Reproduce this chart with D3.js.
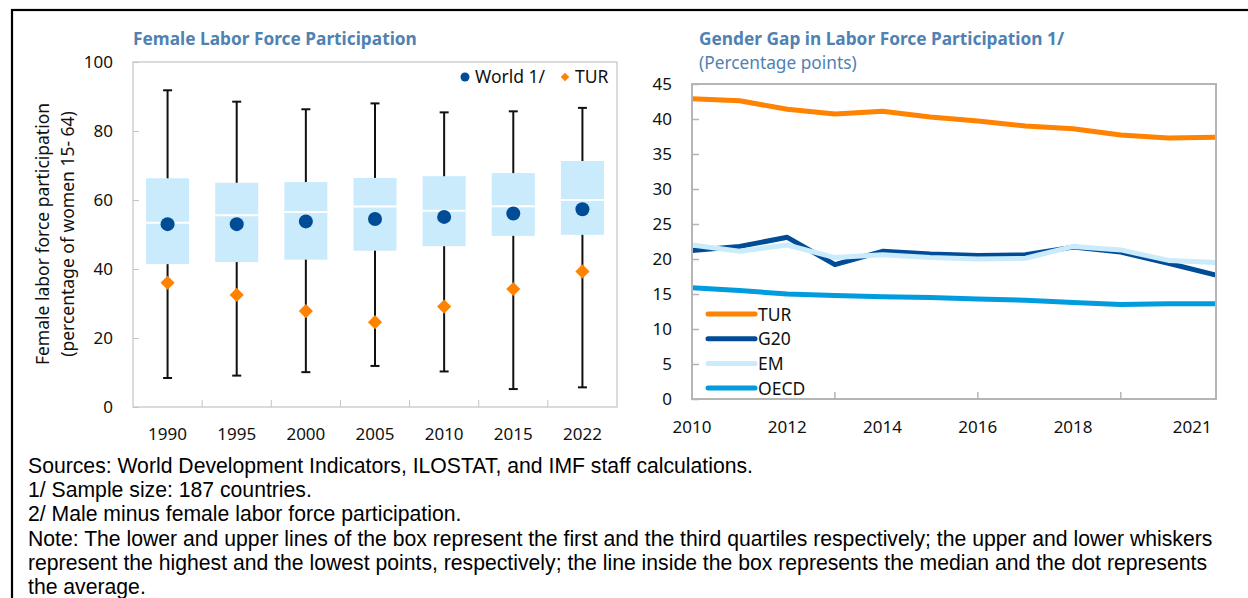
<!DOCTYPE html>
<html>
<head>
<meta charset="utf-8">
<script src="https://cdn.jsdelivr.net/npm/d3@7"></script>
<style>
  body { margin: 0; background: #fff; }
  svg { display: block; }
</style>
</head>
<body>
<div id="chart"></div>
<script>
// Female labor force participation (box plots) and gender gap (lines)

const boxYears = ["1990", "1995", "2000", "2005", "2010", "2015", "2022"];
const boxMax = [91.8, 88.5, 86.3, 88.0, 85.4, 85.7, 86.7];
const boxQ3 = [66.3, 65.0, 65.2, 66.4, 66.9, 67.8, 71.3];
const boxMedian = [53.4, 55.6, 56.5, 58.1, 56.9, 58.2, 60.0];
const boxMean = [53.0, 53.0, 53.8, 54.5, 55.1, 56.1, 57.3];
const boxQ1 = [41.4, 42.0, 42.7, 45.3, 46.6, 49.6, 49.9];
const boxMin = [8.4, 9.1, 10.1, 11.9, 10.3, 5.2, 5.7];
const turLfp = [36.0, 32.5, 27.8, 24.6, 29.1, 34.2, 39.3];

const gapYears = [2010, 2011, 2012, 2013, 2014, 2015, 2016, 2017, 2018, 2019, 2020, 2021];
const gapTUR = [42.9, 42.6, 41.4, 40.7, 41.1, 40.3, 39.7, 39.0, 38.6, 37.7, 37.3, 37.4];
const gapG20 = [21.2, 21.8, 23.1, 19.2, 21.1, 20.7, 20.5, 20.6, 21.7, 21.0, 19.4, 17.7];
const gapEM = [22.0, 21.1, 22.0, 20.2, 20.6, 20.2, 20.0, 20.1, 21.8, 21.3, 19.8, 19.5];
const gapOECD = [15.9, 15.5, 15.0, 14.8, 14.6, 14.5, 14.3, 14.1, 13.8, 13.5, 13.6, 13.6];

const leftTicks = [0, 20, 40, 60, 80, 100];
const rightTicks = [0, 5, 10, 15, 20, 25, 30, 35, 40, 45];
const rightLabelYears = [2010, 2012, 2014, 2016, 2018, 2020.5];
const rightLabelText = ["2010", "2012", "2014", "2016", "2018", "2021"];
const rightTickYears = [2013, 2016, 2019];

const footnotes = [
  "Sources: World Development Indicators, ILOSTAT, and IMF staff calculations.",
  "1/ Sample size: 187 countries.",
  "2/ Male minus female labor force participation.",
  "Note: The lower and upper lines of the box represent the first and the third quartiles respectively; the upper and lower whiskers",
  "represent the highest and the lowest points, respectively; the line inside the box represents the median and the dot represents",
  "the average."
];

const width = 1248, height = 598;
const font = "'Noto Sans', sans-serif";
const titleColor = "#4f81b3";
const orange = "#ff8200", navy = "#004c97", pale = "#c9ebfb", sky = "#009cde";
const tickFont = 17, legendFont = 17.5, titleFont = 17.3;

const svg = d3.select("#chart")
  .append("svg")
  .attr("width", width)
  .attr("height", height)
  .style("font-family", font);

svg.append("rect")
  .attr("width", width).attr("height", height)
  .attr("fill", "#fff");

// outer frame
svg.append("rect")
  .attr("x", 12).attr("y", 10)
  .attr("width", 1250).attr("height", 620)
  .attr("fill", "none")
  .attr("stroke", "#000")
  .attr("stroke-width", 2.2);

// ---------- left chart ----------
const x1 = d3.scaleBand().domain(boxYears).range([133, 617]);
const y1 = d3.scaleLinear().domain([0, 100]).range([407, 62]);

svg.append("text")
  .attr("x", 133).attr("y", 45)
  .attr("font-size", titleFont)
  .attr("font-weight", "bold")
  .attr("fill", titleColor)
  .text("Female Labor Force Participation");

svg.append("rect")
  .attr("x", 133).attr("y", 62)
  .attr("width", 484).attr("height", 345)
  .attr("fill", "none")
  .attr("stroke", "#c4c4c4")
  .attr("stroke-width", 1.2);

svg.append("g")
  .attr("transform", "translate(133,0)")
  .call(d3.axisLeft(y1).tickValues(leftTicks).tickSize(-6).tickPadding(20))
  .call(g => g.select(".domain").remove())
  .call(g => g.selectAll("line").attr("stroke", "#c4c4c4"))
  .call(g => g.selectAll("text").attr("font-size", tickFont).attr("fill", "#111").attr("font-family", font));

// inner category ticks on the x axis
svg.append("g")
  .selectAll("line")
  .data(boxYears.slice(1))
  .join("line")
  .attr("x1", d => x1(d)).attr("x2", d => x1(d))
  .attr("y1", 407).attr("y2", 400)
  .attr("stroke", "#c4c4c4");

svg.append("g")
  .attr("transform", "translate(0,407)")
  .call(d3.axisBottom(x1).tickSize(0).tickPadding(21))
  .call(g => g.select(".domain").remove())
  .call(g => g.selectAll("text").attr("font-size", tickFont).attr("fill", "#111").attr("font-family", font));

svg.append("text")
  .attr("transform", "translate(49,234) rotate(-90)")
  .attr("text-anchor", "middle")
  .attr("font-size", legendFont)
  .attr("fill", "#111")
  .text("Female labor force participation");

svg.append("text")
  .attr("transform", "translate(74,234) rotate(-90)")
  .attr("text-anchor", "middle")
  .attr("font-size", legendFont)
  .attr("fill", "#111")
  .text("(percentage of women 15- 64)");

const boxW = 43, capW = 9;
const cx = d => x1(d) + x1.bandwidth() / 2;

const boxes = svg.append("g")
  .selectAll("g")
  .data(boxYears.map((year, i) => ({
    year, max: boxMax[i], q3: boxQ3[i], med: boxMedian[i],
    mean: boxMean[i], q1: boxQ1[i], min: boxMin[i], tur: turLfp[i]
  })))
  .join("g");

boxes.append("line")
  .attr("x1", d => cx(d.year)).attr("x2", d => cx(d.year))
  .attr("y1", d => y1(d.max)).attr("y2", d => y1(d.min))
  .attr("stroke", "#111").attr("stroke-width", 2);

boxes.selectAll(".cap")
  .data(d => [d.max, d.min].map(v => ({ year: d.year, v })))
  .join("line")
  .attr("class", "cap")
  .attr("x1", d => cx(d.year) - capW / 2).attr("x2", d => cx(d.year) + capW / 2)
  .attr("y1", d => y1(d.v)).attr("y2", d => y1(d.v))
  .attr("stroke", "#111").attr("stroke-width", 2);

boxes.append("rect")
  .attr("x", d => cx(d.year) - boxW / 2)
  .attr("y", d => y1(d.q3))
  .attr("width", boxW)
  .attr("height", d => y1(d.q1) - y1(d.q3))
  .attr("fill", pale);

boxes.append("line")
  .attr("x1", d => cx(d.year) - boxW / 2).attr("x2", d => cx(d.year) + boxW / 2)
  .attr("y1", d => y1(d.med)).attr("y2", d => y1(d.med))
  .attr("stroke", "#fff").attr("stroke-width", 2);

boxes.append("circle")
  .attr("cx", d => cx(d.year))
  .attr("cy", d => y1(d.mean))
  .attr("r", 7)
  .attr("fill", navy);

const diamond = d3.symbol().type(d3.symbolSquare);

boxes.append("path")
  .attr("d", diamond.size(100)())
  .attr("transform", d => `translate(${cx(d.year)},${y1(d.tur)}) rotate(45)`)
  .attr("fill", orange);

// legend
svg.append("circle").attr("cx", 465).attr("cy", 77).attr("r", 4.5).attr("fill", navy);
svg.append("text").attr("x", 475).attr("y", 83).attr("font-size", legendFont).attr("fill", "#111").text("World 1/");
svg.append("path")
  .attr("d", diamond.size(36)())
  .attr("transform", "translate(565,77) rotate(45)")
  .attr("fill", orange);
svg.append("text").attr("x", 575).attr("y", 83).attr("font-size", legendFont).attr("fill", "#111").text("TUR");

// ---------- right chart ----------
const x2 = d3.scaleLinear().domain([2010, 2021]).range([692, 1216]);
const y2 = d3.scaleLinear().domain([0, 45]).range([399, 84]);

svg.append("text")
  .attr("x", 699).attr("y", 45)
  .attr("font-size", titleFont)
  .attr("font-weight", "bold")
  .attr("fill", titleColor)
  .text("Gender Gap in Labor Force Participation 1/");

svg.append("text")
  .attr("x", 699).attr("y", 69)
  .attr("font-size", titleFont)
  .attr("fill", titleColor)
  .text("(Percentage points)");

svg.append("g")
  .attr("transform", "translate(692,0)")
  .call(d3.axisLeft(y2).tickValues(rightTicks).tickSize(-7).tickPadding(20))
  .call(g => g.select(".domain").remove())
  .call(g => g.selectAll("line").attr("stroke", "#b5b5b5").attr("stroke-width", 1.5))
  .call(g => g.selectAll("text").attr("font-size", tickFont).attr("fill", "#111").attr("font-family", font));

svg.append("g")
  .selectAll("line")
  .data(rightTickYears)
  .join("line")
  .attr("x1", d => x2(d)).attr("x2", d => x2(d))
  .attr("y1", 399).attr("y2", 392)
  .attr("stroke", "#b5b5b5").attr("stroke-width", 1.5);

svg.append("g")
  .selectAll("text")
  .data(rightLabelYears)
  .join("text")
  .attr("x", d => x2(d))
  .attr("y", 433)
  .attr("text-anchor", "middle")
  .attr("font-size", tickFont)
  .attr("fill", "#111")
  .text((d, i) => rightLabelText[i]);

const series = [
  { name: "TUR", values: gapTUR, color: orange },
  { name: "G20", values: gapG20, color: navy },
  { name: "EM", values: gapEM, color: pale },
  { name: "OECD", values: gapOECD, color: sky }
];

const line = d3.line()
  .x((d, i) => x2(gapYears[i]))
  .y(d => y2(d));

svg.append("g")
  .selectAll("path")
  .data(series)
  .join("path")
  .attr("d", d => line(d.values))
  .attr("fill", "none")
  .attr("stroke", d => d.color)
  .attr("stroke-width", 5)
  .attr("stroke-linejoin", "round");

svg.append("rect")
  .attr("x", 692).attr("y", 84)
  .attr("width", 524).attr("height", 315)
  .attr("fill", "none")
  .attr("stroke", "#b5b5b5")
  .attr("stroke-width", 2);

const legend = svg.append("g")
  .selectAll("g")
  .data(series)
  .join("g")
  .attr("transform", (d, i) => `translate(708,${314 + i * 24.7})`);

legend.append("line")
  .attr("x1", 0).attr("x2", 47)
  .attr("stroke", d => d.color)
  .attr("stroke-width", 5)
  .attr("stroke-linecap", "round");

legend.append("text")
  .attr("x", 50).attr("y", 6.5)
  .attr("font-size", legendFont)
  .attr("fill", "#111")
  .text(d => d.name);

// ---------- footnotes ----------
svg.append("g")
  .selectAll("text")
  .data(footnotes)
  .join("text")
  .attr("x", 28)
  .attr("y", (d, i) => 473 + i * 24.2)
  .attr("font-family", "'Liberation Sans', Arial, sans-serif")
  .attr("font-size", 21.2)
  .attr("fill", "#000")
  .text(d => d);
</script>
</body>
</html>
